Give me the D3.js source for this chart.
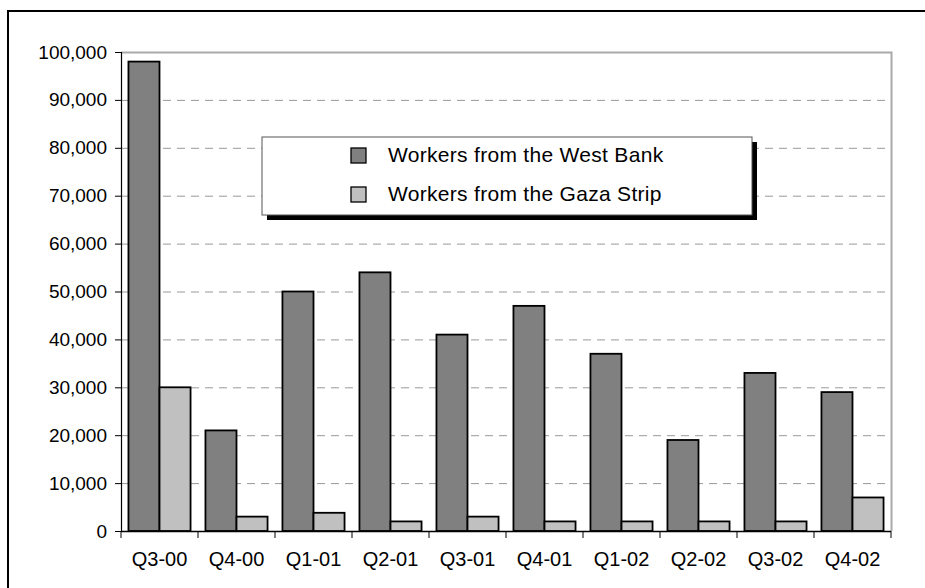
<!DOCTYPE html>
<html><head><meta charset="utf-8">
<script src="https://cdn.jsdelivr.net/npm/d3@7"></script>
<style>body{margin:0;background:#fff}svg{display:block}text{font-family:"Liberation Sans",Arial,sans-serif;fill:#000}</style>
</head><body><svg id="c" width="925" height="588"></svg>
<script>
const categories = ["Q3-00","Q4-00","Q1-01","Q2-01","Q3-01","Q4-01","Q1-02","Q2-02","Q3-02","Q4-02"];
const westBank = [98000,21000,50000,54000,41000,47000,37000,19000,33000,29000];
const gazaStrip = [30000,3000,3800,2000,3000,2000,2000,2000,2000,7000];
const seriesNames = ["Workers from the West Bank","Workers from the Gaza Strip"];
const seriesColors = ["#808080","#c0c0c0"];
const yTicks = [0,10000,20000,30000,40000,50000,60000,70000,80000,90000,100000];

const svg = d3.select("#c");
const L=121, R=891, T=52, B=531;
// outer frame
svg.append("rect").attr("x",8).attr("y",11).attr("width",930).attr("height",600)
  .attr("fill","none").attr("stroke","#000").attr("stroke-width",2);

const x = d3.scaleBand().domain(categories).range([L,R]).paddingInner(0).paddingOuter(0);
const x1 = d3.scaleBand().domain([0,1]).range([0,x.bandwidth()]).paddingOuter(0.24).paddingInner(0);
const y = d3.scaleLinear().domain([0,100000]).range([B,T]);

// gridlines
svg.append("g").selectAll("line").data(yTicks.filter(v=>v>0 && v<100000)).join("line")
  .attr("x1",L).attr("x2",R).attr("y1",d=>y(d)+0.5).attr("y2",d=>y(d)+0.5)
  .attr("stroke","#999").attr("stroke-dasharray","8,6");
// plot top & right border
svg.append("path").attr("d",`M${L},${T+0.5}H${R+0.5}V${B}`).attr("fill","none").attr("stroke","#aaa").attr("stroke-width",2);

// bars
const data = categories.map((c,i)=>({c, v:[westBank[i],gazaStrip[i]]}));
const g = svg.append("g");
data.forEach(d=>{
  d.v.forEach((v,j)=>{
    g.append("rect").attr("x",x(d.c)+x1(j)).attr("y",y(v))
      .attr("width",x1.bandwidth()).attr("height",B-y(v))
      .attr("fill",seriesColors[j]).attr("stroke","#000").attr("stroke-width",1.8);
  });
});

// y axis
const ya = svg.append("g").attr("transform",`translate(${L},0)`)
  .call(d3.axisLeft(y).tickValues(yTicks).tickFormat(d3.format(",")).tickSize(6).tickPadding(8));
ya.select(".domain").attr("stroke","#000").attr("stroke-width",1.2);
ya.selectAll(".tick line").attr("stroke","#000");
ya.selectAll("text").style("font-size","19px").attr("fill","#000");

// x axis
const xa = svg.append("g").attr("transform",`translate(0,${B})`)
  .call(d3.axisBottom(x).tickSize(0).tickPadding(21));
xa.select(".domain").attr("stroke","#000").attr("stroke-width",1.5).attr("d",`M${L},0.5H${R}`);
xa.selectAll("text").style("font-size","20px").attr("fill","#000");
svg.append("g").selectAll("line").data(categories.map(c=>x(c)).concat([R])).join("line")
  .attr("x1",d=>d).attr("x2",d=>d).attr("y1",B).attr("y2",B+7).attr("stroke","#000");

// legend
const lg = svg.append("g");
lg.append("rect").attr("x",267).attr("y",142).attr("width",490).attr("height",78).attr("fill","#000");
lg.append("rect").attr("x",262).attr("y",137).attr("width",490).attr("height",78).attr("fill","#fff").attr("stroke","#555").attr("stroke-width",1);
seriesNames.forEach((n,i)=>{
  const yy = 148 + i*39;
  lg.append("rect").attr("x",351).attr("y",yy).attr("width",15).attr("height",15)
    .attr("fill",seriesColors[i]).attr("stroke","#000").attr("stroke-width",1.3);
  lg.append("text").attr("x",388).attr("y",yy+14).style("font-size","21px").style("letter-spacing","0.3px").text(n);
});
</script></body></html>
